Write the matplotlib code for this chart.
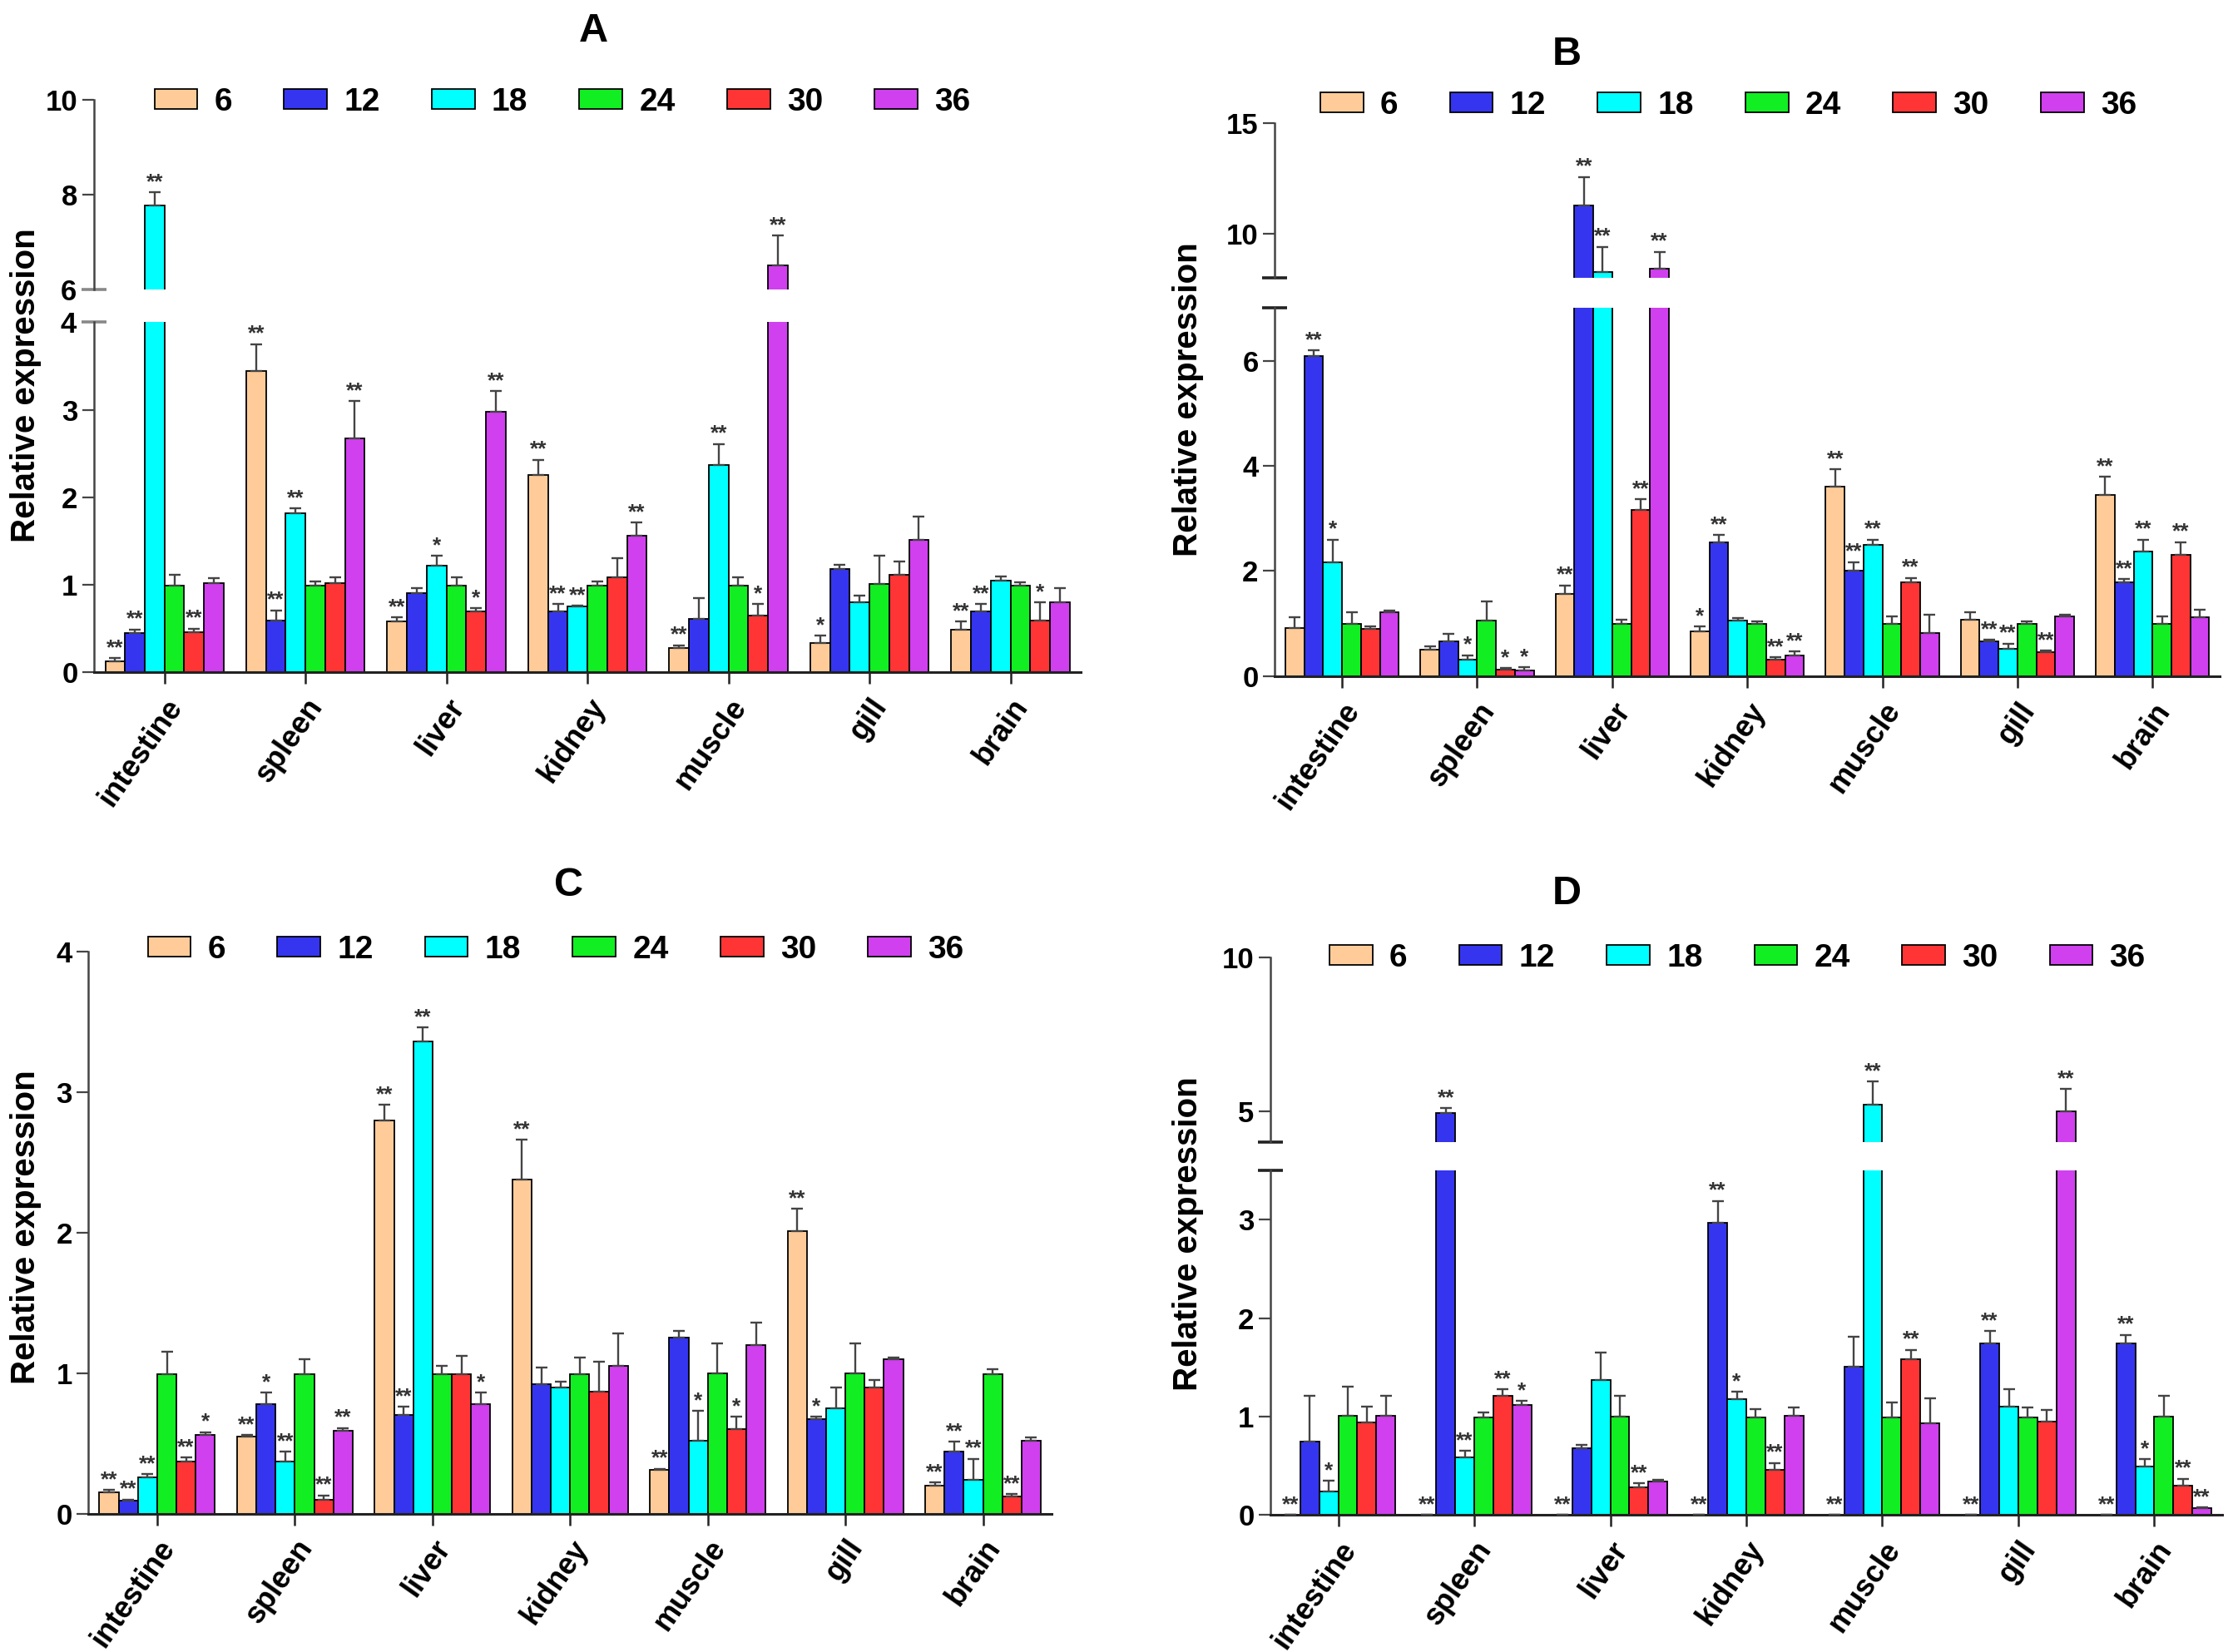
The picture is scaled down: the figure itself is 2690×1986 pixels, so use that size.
import matplotlib
matplotlib.use('Agg')
import matplotlib.pyplot as plt
import numpy as np

# Arial-like bold text everywhere
plt.rcParams['font.family'] = ['Liberation Sans', 'DejaVu Sans']
plt.rcParams['font.weight'] = 'bold'

tissues = ['intestine', 'spleen', 'liver', 'kidney', 'muscle', 'gill', 'brain']
hours = ['6', '12', '18', '24', '30', '36']
colors = ['#FFCC99', '#3535F0', '#00FFFF', '#11EE22', '#FF3535', '#D040EE']

# ---- panel A (rows = 6,12,18,24,30,36 h) ----
a_mean = [[0.13, 3.44, 0.58, 2.25, 0.28, 0.34, 0.49],
          [0.45, 0.59, 0.91, 0.70, 0.61, 1.18, 0.70],
          [7.76, 1.82, 1.22, 0.75, 2.37, 0.80, 1.05],
          [0.99, 0.99, 0.99, 0.99, 0.99, 1.01, 0.99],
          [0.46, 1.02, 0.70, 1.09, 0.65, 1.11, 0.59],
          [1.02, 2.67, 2.98, 1.56, 6.50, 1.51, 0.80]]
a_err = [[0.03, 0.31, 0.05, 0.18, 0.03, 0.08, 0.09],
         [0.04, 0.12, 0.05, 0.08, 0.24, 0.05, 0.08],
         [0.28, 0.05, 0.11, 0.01, 0.24, 0.08, 0.05],
         [0.12, 0.05, 0.10, 0.05, 0.10, 0.32, 0.04],
         [0.04, 0.07, 0.03, 0.21, 0.13, 0.16, 0.21],
         [0.06, 0.43, 0.23, 0.15, 0.63, 0.27, 0.16]]
a_sig = [['**', '**', '**', '**', '**', '*', '**'],
         ['**', '**', '', '**', '', '', '**'],
         ['**', '**', '*', '**', '**', '', ''],
         ['', '', '', '', '', '', ''],
         ['**', '', '*', '', '*', '', '*'],
         ['', '**', '**', '**', '**', '', '']]

# ---- panel B ----
b_mean = [[0.92, 0.50, 1.56, 0.86, 3.61, 1.07, 3.44],
          [6.09, 0.67, 11.26, 2.55, 2.00, 0.66, 1.78],
          [2.17, 0.31, 8.29, 1.05, 2.50, 0.52, 2.37],
          [1.00, 1.05, 1.00, 1.00, 1.00, 1.00, 1.00],
          [0.90, 0.12, 3.16, 0.32, 1.78, 0.45, 2.30],
          [1.22, 0.11, 8.41, 0.39, 0.82, 1.13, 1.12]]
b_err = [[0.20, 0.07, 0.17, 0.09, 0.32, 0.15, 0.35],
         [0.11, 0.13, 1.30, 0.14, 0.17, 0.03, 0.07],
         [0.43, 0.09, 1.12, 0.05, 0.10, 0.10, 0.23],
         [0.22, 0.37, 0.08, 0.04, 0.14, 0.04, 0.13],
         [0.04, 0.03, 0.21, 0.04, 0.09, 0.04, 0.25],
         [0.03, 0.06, 0.78, 0.08, 0.35, 0.04, 0.14]]
b_sig = [['', '', '**', '*', '**', '', '**'],
         ['**', '', '**', '**', '**', '**', '**'],
         ['*', '*', '**', '', '**', '**', '**'],
         ['', '', '', '', '', '', ''],
         ['', '*', '**', '**', '**', '**', '**'],
         ['', '*', '**', '**', '', '', '']]

# ---- panel C ----
c_mean = [[0.15, 0.55, 2.80, 2.38, 0.31, 2.01, 0.20],
          [0.09, 0.78, 0.70, 0.92, 1.25, 0.67, 0.44],
          [0.26, 0.37, 3.36, 0.90, 0.52, 0.75, 0.24],
          [0.99, 0.99, 0.99, 0.99, 1.00, 1.00, 0.99],
          [0.37, 0.10, 0.99, 0.87, 0.60, 0.90, 0.12],
          [0.56, 0.59, 0.78, 1.05, 1.20, 1.10, 0.52]]
c_err = [[0.02, 0.01, 0.11, 0.28, 0.01, 0.16, 0.02],
         [0.01, 0.08, 0.06, 0.12, 0.05, 0.02, 0.07],
         [0.02, 0.07, 0.10, 0.04, 0.21, 0.15, 0.15],
         [0.16, 0.11, 0.06, 0.12, 0.21, 0.21, 0.04],
         [0.03, 0.03, 0.13, 0.21, 0.09, 0.05, 0.02],
         [0.02, 0.02, 0.08, 0.23, 0.16, 0.01, 0.02]]
c_sig = [['**', '**', '**', '**', '**', '**', '**'],
         ['**', '*', '**', '', '', '*', '**'],
         ['**', '**', '**', '', '*', '', '**'],
         ['', '', '', '', '', '', ''],
         ['**', '**', '', '', '*', '', '**'],
         ['*', '**', '*', '', '', '', '']]

# ---- panel D ----
d_mean = [[0.0, 0.0, 0.0, 0.0, 0.0, 0.0, 0.0],
          [0.75, 4.93, 0.68, 2.97, 1.51, 1.74, 1.74],
          [0.24, 0.59, 1.37, 1.18, 5.22, 1.10, 0.49],
          [1.01, 0.99, 1.00, 0.99, 0.99, 0.99, 1.00],
          [0.94, 1.21, 0.28, 0.46, 1.58, 0.95, 0.30],
          [1.01, 1.12, 0.34, 1.01, 0.93, 5.00, 0.07]]
d_err = [[0.0, 0.0, 0.0, 0.0, 0.0, 0.0, 0.0],
         [0.46, 0.17, 0.03, 0.22, 0.30, 0.13, 0.09],
         [0.11, 0.06, 0.28, 0.07, 0.74, 0.18, 0.08],
         [0.29, 0.05, 0.21, 0.09, 0.15, 0.10, 0.21],
         [0.16, 0.07, 0.04, 0.07, 0.10, 0.12, 0.07],
         [0.20, 0.04, 0.02, 0.08, 0.26, 0.73, 0.01]]
d_sig = [['**', '**', '**', '**', '**', '**', '**'],
         ['', '**', '', '**', '', '**', '**'],
         ['*', '**', '', '*', '**', '', '*'],
         ['', '', '', '', '', '', ''],
         ['', '**', '**', '**', '**', '', '**'],
         ['', '*', '', '', '', '**', '**']]

W = 0.14
AXCOL = '#444444'
ECOL = '#444444'
TICK_FS = 25
XLAB_FS = 26
YLAB_FS = 29
LEG_FS = 28
TITLE_FS = 35
STAR_FS = 19

fig = plt.figure(figsize=(26.9, 19.86), dpi=100)


def style(ax, bottom):
    for s in ['top', 'right']:
        ax.spines[s].set_visible(False)
    ax.spines['left'].set_color(AXCOL)
    ax.spines['left'].set_linewidth(1.8)
    ax.set_facecolor('none')
    ax.set_xlim(-0.5, 6.5)
    ax.tick_params(axis='y', which='major', length=10, width=1.6, color=AXCOL,
                   labelsize=TICK_FS, pad=4)
    if bottom:
        ax.spines['bottom'].set_color('#222222')
        ax.spines['bottom'].set_linewidth(2.2)
        ax.set_xticks(np.arange(len(tissues)))
        ax.set_xticklabels(tissues, rotation=55, ha='right', va='top',
                           rotation_mode='anchor', fontsize=XLAB_FS)
        ax.tick_params(axis='x', length=10, width=1.8, color='#222222', pad=8)
    else:
        ax.spines['bottom'].set_visible(False)
        ax.tick_params(axis='x', bottom=False, labelbottom=False)


def panel(rect_x, lower, upper, mean, err, sig, lo_ticks, lo_brk, up_ticks, up_brk,
          brk_col, title, title_xy, leg_xy, ylab_xy):
    left, right = rect_x
    lo = fig.add_axes([left, lower[0], right - left, lower[1] - lower[0]])
    axes = [lo]
    style(lo, True)
    lo.set_ylim(lower[2], lower[3])
    lo.set_yticks(lo_ticks[0], lo_ticks[1])
    if upper is not None:
        up = fig.add_axes([left, upper[0], right - left, upper[1] - upper[0]], sharex=lo)
        style(up, False)
        up.set_ylim(upper[2], upper[3])
        up.set_yticks(up_ticks[0], up_ticks[1])
        axes.append(up)
        # short marks at both ends of the axis break
        lo.set_yticks(lo_brk[0], lo_brk[1], minor=True)
        up.set_yticks(up_brk[0], up_brk[1], minor=True)
        for ax in (lo, up):
            ax.tick_params(axis='y', which='minor', direction='inout', length=22,
                           width=2.6, color=brk_col, labelsize=TICK_FS, pad=4)
    x = np.arange(len(tissues))
    handles = []
    for j, h in enumerate(hours):
        xs = x + (j - 2.5) * W
        m = np.array(mean[j])
        e = np.array(err[j])
        for k, ax in enumerate(axes):
            b = ax.bar(xs, m, W, color=colors[j], edgecolor='black', linewidth=1.3,
                       zorder=2, label=h)
            if k == 0:
                handles.append(b)
            ax.errorbar(xs, m, yerr=[np.zeros_like(e), e], fmt='none', ecolor=ECOL,
                        elinewidth=1.7, capsize=5, capthick=1.7, zorder=3)
        for i in range(len(tissues)):
            if not sig[j][i]:
                continue
            top = m[i] + e[i]
            ax = axes[1] if (len(axes) > 1 and top > lower[3]) else lo
            ax.annotate(sig[j][i], (xs[i], top), xytext=(0, 0), textcoords='offset points',
                        ha='center', va='bottom', fontsize=STAR_FS, color='#333333',
                        zorder=4)
    axes[-1].legend(handles, hours, loc='center left', bbox_to_anchor=leg_xy,
                    bbox_transform=fig.transFigure, ncol=6, frameon=False,
                    fontsize=LEG_FS, handlelength=1.33, handleheight=0.57,
                    handletextpad=0.52, columnspacing=1.6, borderpad=0, borderaxespad=0)
    fig.text(title_xy[0], title_xy[1], title, fontsize=TITLE_FS, ha='center',
             va='center', fontweight='bold')
    fig.text(ylab_xy[0], ylab_xy[1], 'Relative expression', rotation=90,
             fontsize=YLAB_FS, ha='center', va='center', fontweight='bold')


panel((0.042, 0.483), (0.593, 0.805, 0, 4), (0.825, 0.9396, 6, 10),
      a_mean, a_err, a_sig,
      ([0, 1, 2, 3], ['0', '1', '2', '3']), ([4], ['4']),
      ([8, 10], ['8', '10']), ([6], ['6']),
      '#888888', 'A', (0.265, 0.981), (0.069, 0.938), (0.0115, 0.767))

panel((0.5695, 0.992), (0.5907, 0.8135, 0, 7), (0.8316, 0.9257, 8, 15),
      b_mean, b_err, b_sig,
      ([0, 2, 4, 6], ['0', '2', '4', '6']), ([7], ['']),
      ([10, 15], ['10', '15']), ([8], ['']),
      '#222222', 'B', (0.70, 0.967), (0.59, 0.936), (0.531, 0.758))

panel((0.0395, 0.470), (0.0838, 0.424, 0, 4), None,
      c_mean, c_err, c_sig,
      ([0, 1, 2, 3, 4], ['0', '1', '2', '3', '4']), None, None, None,
      '#222222', 'C', (0.254, 0.464), (0.066, 0.425), (0.0115, 0.257))

panel((0.5676, 0.993), (0.0829, 0.2915, 0, 3.5), (0.3087, 0.4206, 4, 10),
      d_mean, d_err, d_sig,
      ([0, 1, 2, 3], ['0', '1', '2', '3']), ([3.5], ['']),
      ([5, 10], ['5', '10']), ([4], ['']),
      '#222222', 'D', (0.70, 0.459), (0.594, 0.42), (0.531, 0.253))

fig.savefig('out.png', dpi=100, facecolor='white')
